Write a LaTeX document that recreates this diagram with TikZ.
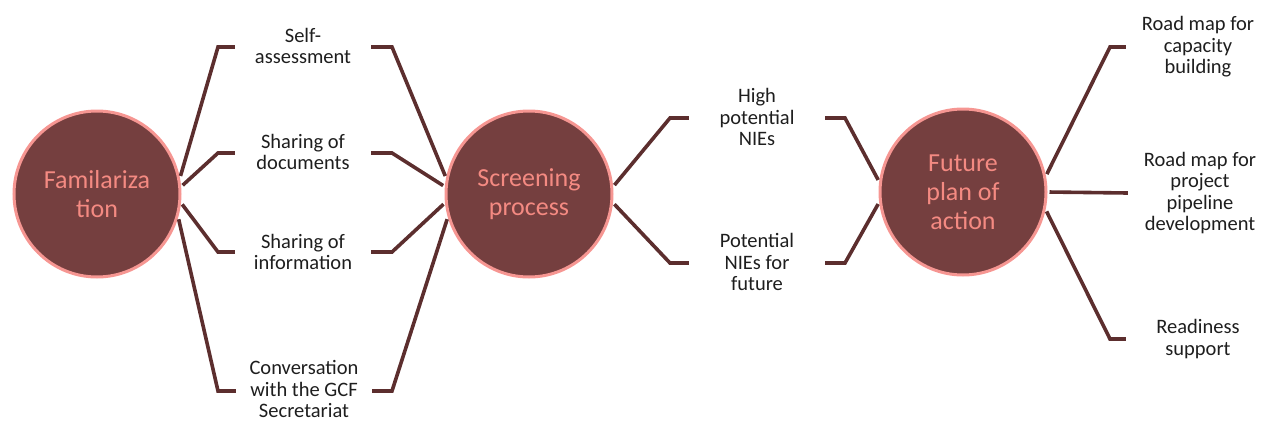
\documentclass[tikz,border=0pt]{standalone}
\usepackage{fontspec}
\setmainfont{Carlito}
\definecolor{circfill}{RGB}{117,63,63}
\definecolor{circrim}{RGB}{246,150,146}
\definecolor{circtext}{RGB}{244,138,130}
\definecolor{linecol}{RGB}{92,46,46}
\definecolor{lbltext}{RGB}{30,30,30}
\begin{document}
\begin{tikzpicture}[x=1pt,y=-1pt,
  hub/.style={circle, fill=circfill, draw=circrim, line width=3pt, minimum size=166pt, inner sep=0pt,
    align=center, text=circtext, font=\fontsize{26}{29}\selectfont},
  lbl/.style={align=center, minimum width=136pt, inner sep=0pt, text=lbltext, font=\fontsize{20.5}{21.5}\selectfont},
  lblr/.style={lbl, minimum width=144pt},
  conn/.style={draw=linecol, line width=3.6pt, line join=miter, shorten <=2pt}]
\useasboundingbox (0,0) rectangle (1262,421);
% hubs
\node[hub] (fam) at (97,194) {Familariza\\tion};
\node[hub] (scr) at (529,194) {Screening\\process};
\node[hub] (fut) at (963,192) {Future\\plan of\\action};
% left column labels
\node[lbl] (self) at (303,46) {Self-\\assessment};
\node[lbl] (doc) at (303,152) {Sharing of\\documents};
\node[lbl] (info) at (303,252) {Sharing of\\information};
\node[lbl] (conv) at (304,389) {Conversation\\with the GCF\\Secretariat};
% middle labels
\node[lbl] (high) at (757,117) {High\\potential\\NIEs};
\node[lbl] (pot) at (757,262) {Potential\\NIEs for\\future};
% right labels
\node[lblr] (cap) at (1198,47) {Road map for\\capacity\\building};
\node[lblr] (pipe) at (1200,193) {Road map for\\project\\pipeline\\development};
\node[lblr] (ready) at (1198,339) {Readiness\\support};
% corner coordinates
\coordinate (a1) at (218,47);
\coordinate (a2) at (218,153);
\coordinate (a3) at (218,252);
\coordinate (a4) at (218,391);
\coordinate (b1) at (392,47);
\coordinate (b2) at (392,153);
\coordinate (b3) at (392,252);
\coordinate (b4) at (392,391);
\coordinate (c1) at (670,118);
\coordinate (c2) at (670,263);
\coordinate (d1) at (845,118);
\coordinate (d2) at (845,263);
\coordinate (e1) at (1110,47);
\coordinate (e3) at (1110,339);
% connectors familiarization -> items
\draw[conn] (fam.11) -- (a1) -- (a1 -| self.west);
\draw[conn] (fam.5) -- (a2) -- (a2 -| doc.west);
\draw[conn] (fam.-6) -- (a3) -- (a3 -| info.west);
\draw[conn] (fam.-16) -- (a4) -- (a4 -| conv.west);
% items -> screening
\draw[conn] (scr.169) -- (b1) -- (b1 -| self.east);
\draw[conn] (scr.175) -- (b2) -- (b2 -| doc.east);
\draw[conn] (scr.186) -- (b3) -- (b3 -| info.east);
\draw[conn] (scr.196) -- (b4) -- (b4 -| conv.east);
% screening -> middle
\draw[conn] (scr.5) -- (c1) -- (c1 -| high.west);
\draw[conn] (scr.-6) -- (c2) -- (c2 -| pot.west);
% middle -> future
\draw[conn] (fut.173) -- (d1) -- (d1 -| high.east);
\draw[conn] (fut.187) -- (d2) -- (d2 -| pot.east);
% future -> right
\draw[conn] (fut.11) -- (e1) -- (e1 -| cap.west);
\draw[conn] (fut.0) -- (pipe.west);
\draw[conn] (fut.-12) -- (e3) -- (e3 -| ready.west);
\end{tikzpicture}
\end{document}
